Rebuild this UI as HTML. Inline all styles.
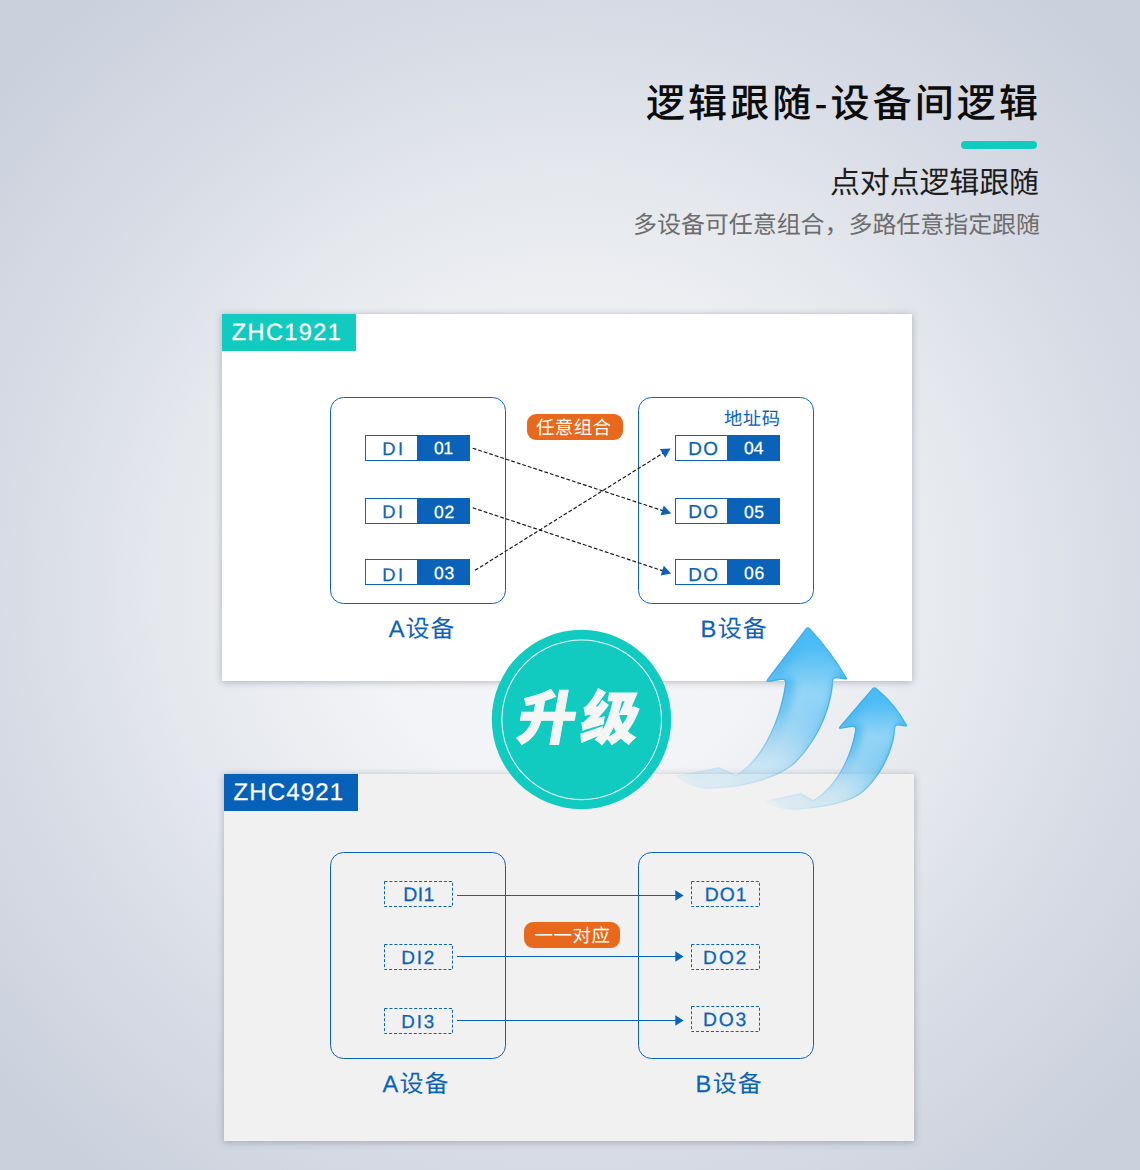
<!DOCTYPE html>
<html lang="zh"><head><meta charset="utf-8"><title>逻辑跟随-设备间逻辑</title>
<style>
html,body{margin:0;padding:0}
body{width:1140px;height:1170px;position:relative;overflow:hidden;font-family:"Liberation Sans","Noto Sans CJK SC",sans-serif;
background:radial-gradient(circle at 570px 585px,#f5f6f9 0,#f3f4f7 200px,#e4e7ec 416px,#d7dbe5 570px,#cad1dc 760px);}
.card{position:absolute;box-shadow:0 1px 7px rgba(70,80,100,.38)}
#c1{left:222px;top:314px;width:690px;height:367px;background:#fff}
#c2{left:224px;top:774px;width:690px;height:367px;background:#f1f1f1}
svg{position:absolute;left:0;top:0}
text{font-family:"Liberation Sans","Noto Sans CJK SC",sans-serif;text-rendering:geometricPrecision}
</style></head><body>
<div class="card" id="c1"></div>
<div class="card" id="c2"></div>
<svg width="1140" height="1170" viewBox="0 0 1140 1170">
<text x="646" y="116.5" font-size="39" font-weight="500" fill="#0c0c0c" textLength="392" lengthAdjust="spacing">逻辑跟随-设备间逻辑</text>
<rect x="961" y="141" width="76" height="8" rx="4" fill="#11cac0"/>
<text x="830" y="192.5" font-size="30" fill="#1c1c1c" textLength="209" lengthAdjust="spacing">点对点逻辑跟随</text>
<text x="633" y="232.5" font-size="24" fill="#6c6c6c" textLength="407" lengthAdjust="spacing">多设备可任意组合，多路任意指定跟随</text>
<rect x="222" y="314" width="134" height="37" fill="#11cac0"/>
<text x="231.75" y="339.6" font-size="23.55" letter-spacing="1.4" fill="#fff" stroke="#fff" stroke-width="0.25">ZHC1921</text>
<rect x="224" y="774" width="134" height="37" fill="#0761b9"/>
<text x="233.54" y="799.5" font-size="24.1" letter-spacing="1.07" fill="#fff" stroke="#fff" stroke-width="0.25">ZHC4921</text>
<rect x="330.5" y="397.5" width="175" height="206" rx="13" fill="none" stroke="#0b62b9" stroke-width="1"/>
<rect x="638.5" y="397.5" width="175" height="206" rx="13" fill="none" stroke="#0b62b9" stroke-width="1"/>
<rect x="365.5" y="435.5" width="104" height="25" fill="#fff" stroke="#0b62b9"/>
<rect x="417" y="435" width="53" height="26" fill="#0b62b9"/>
<rect x="675.5" y="435.5" width="104" height="25" fill="#fff" stroke="#0b62b9"/>
<rect x="727" y="435" width="53" height="26" fill="#0b62b9"/>
<rect x="365.5" y="498.5" width="104" height="25" fill="#fff" stroke="#0b62b9"/>
<rect x="417" y="498" width="53" height="26" fill="#0b62b9"/>
<rect x="675.5" y="498.5" width="104" height="25" fill="#fff" stroke="#0b62b9"/>
<rect x="727" y="498" width="53" height="26" fill="#0b62b9"/>
<rect x="365.5" y="559.5" width="104" height="25" fill="#fff" stroke="#0b62b9"/>
<rect x="417" y="559" width="53" height="26" fill="#0b62b9"/>
<rect x="675.5" y="559.5" width="104" height="25" fill="#fff" stroke="#0b62b9"/>
<rect x="727" y="559" width="53" height="26" fill="#0b62b9"/>
<text x="382.29" y="454.65" font-size="18.36" letter-spacing="2.34" fill="#0b62b9" stroke="#0b62b9" stroke-width="0.25">DI</text>
<text x="688.15" y="455.15" font-size="18.92" letter-spacing="1.47" fill="#0b62b9" stroke="#0b62b9" stroke-width="0.25">DO</text>
<text x="382.29" y="517.75" font-size="18.36" letter-spacing="2.34" fill="#0b62b9" stroke="#0b62b9" stroke-width="0.25">DI</text>
<text x="688.15" y="518.25" font-size="18.92" letter-spacing="1.47" fill="#0b62b9" stroke="#0b62b9" stroke-width="0.25">DO</text>
<text x="382.29" y="580.55" font-size="18.36" letter-spacing="2.34" fill="#0b62b9" stroke="#0b62b9" stroke-width="0.25">DI</text>
<text x="688.15" y="581.05" font-size="18.92" letter-spacing="1.47" fill="#0b62b9" stroke="#0b62b9" stroke-width="0.25">DO</text>
<text x="433.91" y="454.45" font-size="17.57" letter-spacing="-0.4" fill="#fff" stroke="#fff" stroke-width="0.25">01</text>
<text x="743.91" y="454.45" font-size="17.57" letter-spacing="0.15" fill="#fff" stroke="#fff" stroke-width="0.25">04</text>
<text x="433.91" y="517.55" font-size="17.57" letter-spacing="0.82" fill="#fff" stroke="#fff" stroke-width="0.25">02</text>
<text x="743.91" y="517.55" font-size="17.57" letter-spacing="0.68" fill="#fff" stroke="#fff" stroke-width="0.25">05</text>
<text x="433.91" y="578.75" font-size="17.57" letter-spacing="0.71" fill="#fff" stroke="#fff" stroke-width="0.25">03</text>
<text x="743.91" y="578.75" font-size="17.57" letter-spacing="0.71" fill="#fff" stroke="#fff" stroke-width="0.25">06</text>
<text x="724" y="424.5" font-size="18.3" fill="#0b62b9" textLength="56" lengthAdjust="spacing">地址码</text>
<rect x="527" y="414" width="96" height="26" rx="9" fill="#e8681c"/>
<text x="536" y="434" font-size="18.5" fill="#fff" textLength="75" lengthAdjust="spacing">任意组合</text>
<path d="M472.7 448.2L663.60 510.90" stroke="#141414" stroke-width="1.15" stroke-dasharray="3.8 2" fill="none"/>
<path fill="#0b62b9" d="M671.20 513.40L660.58 515.28L663.77 505.59Z"/>
<path d="M472.7 507.8L663.61 571.08" stroke="#141414" stroke-width="1.15" stroke-dasharray="3.8 2" fill="none"/>
<path fill="#0b62b9" d="M671.20 573.60L660.58 575.45L663.79 565.77Z"/>
<path d="M475.1 570.3L663.81 452.63" stroke="#141414" stroke-width="1.15" stroke-dasharray="3.8 2" fill="none"/>
<path fill="#0b62b9" d="M670.60 448.40L665.24 457.75L659.84 449.10Z"/>
<text x="388.65" y="636.85" font-size="23.62" letter-spacing="0" fill="#0b62b9" stroke="#0b62b9" stroke-width="0.25">A</text>
<text x="405.5" y="636.9" font-size="24" fill="#0b62b9" textLength="49" lengthAdjust="spacing">设备</text>
<text x="700.46" y="636.85" font-size="23.62" letter-spacing="0" fill="#0b62b9" stroke="#0b62b9" stroke-width="0.25">B</text>
<text x="717.7" y="636.9" font-size="24" fill="#0b62b9" textLength="49" lengthAdjust="spacing">设备</text>
<rect x="330.5" y="852.5" width="175" height="206" rx="13" fill="none" stroke="#0b62b9" stroke-width="1"/>
<rect x="638.5" y="852.5" width="175" height="206" rx="13" fill="none" stroke="#0b62b9" stroke-width="1"/>
<rect x="384.5" y="881.5" width="68" height="25" fill="none" stroke="#0b62b9" stroke-dasharray="3 1.95"/>
<rect x="691.5" y="881.5" width="68" height="25" fill="none" stroke="#0b62b9" stroke-dasharray="3 1.95"/>
<path d="M457 895.5H676" stroke="#0b62b9" stroke-width="1" fill="none"/>
<path fill="#0b62b9" d="M675.3 890.2L683.6 895.5L675.3 900.8Z"/>
<rect x="384.5" y="944.5" width="68" height="25" fill="none" stroke="#0b62b9" stroke-dasharray="3 1.95"/>
<rect x="691.5" y="944.5" width="68" height="25" fill="none" stroke="#0b62b9" stroke-dasharray="3 1.95"/>
<path d="M457 956.5H676" stroke="#0b62b9" stroke-width="1" fill="none"/>
<path fill="#0b62b9" d="M675.3 951.2L683.6 956.5L675.3 961.8Z"/>
<rect x="384.5" y="1008.5" width="68" height="25" fill="none" stroke="#0b62b9" stroke-dasharray="3 1.95"/>
<rect x="691.5" y="1006.5" width="68" height="25" fill="none" stroke="#0b62b9" stroke-dasharray="3 1.95"/>
<path d="M457 1020.5H676" stroke="#0b62b9" stroke-width="1" fill="none"/>
<path fill="#0b62b9" d="M675.3 1015.2L683.6 1020.5L675.3 1025.8Z"/>
<text x="403.2" y="900.95" font-size="19.47" letter-spacing="0.43" fill="#0b62b9" stroke="#0b62b9" stroke-width="0.25">DI1</text>
<text x="401.14" y="964.05" font-size="19.05" letter-spacing="1.79" fill="#0b62b9" stroke="#0b62b9" stroke-width="0.25">DI2</text>
<text x="401.16" y="1028.05" font-size="18.78" letter-spacing="1.92" fill="#0b62b9" stroke="#0b62b9" stroke-width="0.25">DI3</text>
<text x="704.81" y="901.25" font-size="19.32" letter-spacing="0.95" fill="#0b62b9" stroke="#0b62b9" stroke-width="0.25">DO1</text>
<text x="703.04" y="964.25" font-size="19.06" letter-spacing="2.12" fill="#0b62b9" stroke="#0b62b9" stroke-width="0.25">DO2</text>
<text x="703.01" y="1026.35" font-size="19.32" letter-spacing="1.8" fill="#0b62b9" stroke="#0b62b9" stroke-width="0.25">DO3</text>
<rect x="524" y="922" width="96" height="26" rx="9" fill="#e8681c"/>
<text x="534.5" y="942" font-size="18.5" fill="#fff" textLength="75.5" lengthAdjust="spacing">一一对应</text>
<text x="382.55" y="1091.85" font-size="23.62" letter-spacing="0" fill="#0b62b9" stroke="#0b62b9" stroke-width="0.25">A</text>
<text x="399.5" y="1091.9" font-size="24" fill="#0b62b9" textLength="49" lengthAdjust="spacing">设备</text>
<text x="695.46" y="1091.85" font-size="23.62" letter-spacing="0" fill="#0b62b9" stroke="#0b62b9" stroke-width="0.25">B</text>
<text x="712.7" y="1091.9" font-size="24" fill="#0b62b9" textLength="49" lengthAdjust="spacing">设备</text>
<circle cx="581.5" cy="719.5" r="89.7" fill="#11cac0"/>
<circle cx="581.7" cy="719.8" r="79.8" fill="none" stroke="#fff" stroke-opacity=".92" stroke-width="1.05"/>
<text transform="translate(515 739) skewX(-10)" x="0" y="0" font-size="58" font-weight="900" letter-spacing="5" fill="#f5f5f5" stroke="#f5f5f5" stroke-width="1">升级</text>
<defs><linearGradient id="a1g" gradientUnits="userSpaceOnUse" x1="812" y1="640" x2="700" y2="795"><stop offset="0" stop-color="#48bbf5"/><stop offset=".16" stop-color="#49b9f2"/><stop offset=".27" stop-color="#4ab8f0" stop-opacity=".92"/><stop offset=".39" stop-color="#4bb8ef" stop-opacity=".77"/><stop offset=".51" stop-color="#4db9ef" stop-opacity=".53"/><stop offset=".61" stop-color="#50bbf0" stop-opacity=".35"/><stop offset=".72" stop-color="#54bdf1" stop-opacity=".24"/><stop offset=".95" stop-color="#58bff2" stop-opacity=".14"/><stop offset="1" stop-color="#60c2f3" stop-opacity=".06"/></linearGradient><linearGradient id="a1e" gradientUnits="userSpaceOnUse" x1="812" y1="640" x2="700" y2="795"><stop offset="0" stop-color="#2f9fe2" stop-opacity=".35"/><stop offset=".25" stop-color="#2f9fe2" stop-opacity=".55"/><stop offset=".55" stop-color="#3aa3e0" stop-opacity=".40"/><stop offset=".75" stop-color="#4aace4" stop-opacity=".16"/><stop offset="1" stop-color="#4aace4" stop-opacity=".02"/></linearGradient><linearGradient id="a1h" gradientUnits="userSpaceOnUse" x1="0" y1="627" x2="0" y2="792"><stop offset="0" stop-color="#fff" stop-opacity="0"/><stop offset=".10" stop-color="#fff" stop-opacity=".03"/><stop offset=".20" stop-color="#fff" stop-opacity=".16"/><stop offset=".30" stop-color="#fff" stop-opacity=".30"/><stop offset=".40" stop-color="#fff" stop-opacity=".42"/><stop offset=".55" stop-color="#fff" stop-opacity=".30"/><stop offset=".7" stop-color="#fff" stop-opacity=".20"/><stop offset="1" stop-color="#fff" stop-opacity=".10"/></linearGradient><clipPath id="a1c"><path d="M804.9 629.5Q808 625 811.1 629.5Q831.7 651.9 846.6 677.4Q848 679.7 845.6 679.4L836.5 678.2Q833.4 677.8 833.2 681C831.5 709 818 740 796.7 761.7C782.7 776 750 787 715 788.6C700 790.5 686 785 675.4 776.1L719 767.2L736.2 774.9C765 757 781 715 785.2 683Q785.4 679.7 782.3 679.7L768.6 681.9Q765 682.3 767 679.4Z"/></clipPath><filter id="a1b" x="-20%" y="-20%" width="140%" height="140%"><feMorphology operator="erode" radius="3.5"/><feOffset dx="5" dy="-1"/><feGaussianBlur stdDeviation="4.0"/></filter><filter id="a1s" x="-10%" y="-10%" width="120%" height="120%"><feGaussianBlur stdDeviation=".7"/></filter></defs><path d="M804.9 629.5Q808 625 811.1 629.5Q831.7 651.9 846.6 677.4Q848 679.7 845.6 679.4L836.5 678.2Q833.4 677.8 833.2 681C831.5 709 818 740 796.7 761.7C782.7 776 750 787 715 788.6C700 790.5 686 785 675.4 776.1L719 767.2L736.2 774.9C765 757 781 715 785.2 683Q785.4 679.7 782.3 679.7L768.6 681.9Q765 682.3 767 679.4Z" fill="url(#a1g)"/><g clip-path="url(#a1c)"><path d="M804.9 629.5Q808 625 811.1 629.5Q831.7 651.9 846.6 677.4Q848 679.7 845.6 679.4L836.5 678.2Q833.4 677.8 833.2 681C831.5 709 818 740 796.7 761.7C782.7 776 750 787 715 788.6C700 790.5 686 785 675.4 776.1L719 767.2L736.2 774.9C765 757 781 715 785.2 683Q785.4 679.7 782.3 679.7L768.6 681.9Q765 682.3 767 679.4Z" fill="url(#a1h)" filter="url(#a1b)"/><path d="M804.9 629.5Q808 625 811.1 629.5Q831.7 651.9 846.6 677.4Q848 679.7 845.6 679.4L836.5 678.2Q833.4 677.8 833.2 681C831.5 709 818 740 796.7 761.7C782.7 776 750 787 715 788.6C700 790.5 686 785 675.4 776.1L719 767.2L736.2 774.9C765 757 781 715 785.2 683Q785.4 679.7 782.3 679.7L768.6 681.9Q765 682.3 767 679.4Z" fill="none" stroke="url(#a1e)" stroke-width="2.6" filter="url(#a1s)"/></g>
<defs><linearGradient id="a2g" gradientUnits="userSpaceOnUse" x1="878" y1="698" x2="782" y2="812"><stop offset="0" stop-color="#48bbf5"/><stop offset=".16" stop-color="#49b9f2"/><stop offset=".27" stop-color="#4ab8f0" stop-opacity=".92"/><stop offset=".39" stop-color="#4bb8ef" stop-opacity=".77"/><stop offset=".51" stop-color="#4db9ef" stop-opacity=".53"/><stop offset=".61" stop-color="#50bbf0" stop-opacity=".35"/><stop offset=".72" stop-color="#54bdf1" stop-opacity=".24"/><stop offset=".95" stop-color="#58bff2" stop-opacity=".14"/><stop offset="1" stop-color="#60c2f3" stop-opacity=".06"/></linearGradient><linearGradient id="a2e" gradientUnits="userSpaceOnUse" x1="878" y1="698" x2="782" y2="812"><stop offset="0" stop-color="#2f9fe2" stop-opacity=".35"/><stop offset=".25" stop-color="#2f9fe2" stop-opacity=".55"/><stop offset=".55" stop-color="#3aa3e0" stop-opacity=".40"/><stop offset=".75" stop-color="#4aace4" stop-opacity=".16"/><stop offset="1" stop-color="#4aace4" stop-opacity=".02"/></linearGradient><linearGradient id="a2h" gradientUnits="userSpaceOnUse" x1="0" y1="687" x2="0" y2="812"><stop offset="0" stop-color="#fff" stop-opacity="0"/><stop offset=".10" stop-color="#fff" stop-opacity=".03"/><stop offset=".20" stop-color="#fff" stop-opacity=".16"/><stop offset=".30" stop-color="#fff" stop-opacity=".30"/><stop offset=".40" stop-color="#fff" stop-opacity=".42"/><stop offset=".55" stop-color="#fff" stop-opacity=".30"/><stop offset=".7" stop-color="#fff" stop-opacity=".20"/><stop offset="1" stop-color="#fff" stop-opacity=".10"/></linearGradient><clipPath id="a2c"><path d="M871.3 689.4Q874.2 685.3 877.8 689.3Q895.8 704.3 906.6 724.6Q908 726.7 905.8 726.5L898.3 725.6Q895.4 725.3 895.2 728.3C894 750 881 776 863.7 791.6C851 803 822 808 797.4 809.7C785 810.5 772 807 763.4 801.1L800.5 793.2L813.2 800C838 786 852 752 855.2 729.6Q855.3 726.5 852.6 726.7L841 728.7Q837.6 729.3 839.6 726.5Z"/></clipPath><filter id="a2b" x="-20%" y="-20%" width="140%" height="140%"><feMorphology operator="erode" radius="3.0"/><feOffset dx="4.2" dy="-0.8"/><feGaussianBlur stdDeviation="3.5"/></filter><filter id="a2s" x="-10%" y="-10%" width="120%" height="120%"><feGaussianBlur stdDeviation=".7"/></filter></defs><path d="M871.3 689.4Q874.2 685.3 877.8 689.3Q895.8 704.3 906.6 724.6Q908 726.7 905.8 726.5L898.3 725.6Q895.4 725.3 895.2 728.3C894 750 881 776 863.7 791.6C851 803 822 808 797.4 809.7C785 810.5 772 807 763.4 801.1L800.5 793.2L813.2 800C838 786 852 752 855.2 729.6Q855.3 726.5 852.6 726.7L841 728.7Q837.6 729.3 839.6 726.5Z" fill="url(#a2g)"/><g clip-path="url(#a2c)"><path d="M871.3 689.4Q874.2 685.3 877.8 689.3Q895.8 704.3 906.6 724.6Q908 726.7 905.8 726.5L898.3 725.6Q895.4 725.3 895.2 728.3C894 750 881 776 863.7 791.6C851 803 822 808 797.4 809.7C785 810.5 772 807 763.4 801.1L800.5 793.2L813.2 800C838 786 852 752 855.2 729.6Q855.3 726.5 852.6 726.7L841 728.7Q837.6 729.3 839.6 726.5Z" fill="url(#a2h)" filter="url(#a2b)"/><path d="M871.3 689.4Q874.2 685.3 877.8 689.3Q895.8 704.3 906.6 724.6Q908 726.7 905.8 726.5L898.3 725.6Q895.4 725.3 895.2 728.3C894 750 881 776 863.7 791.6C851 803 822 808 797.4 809.7C785 810.5 772 807 763.4 801.1L800.5 793.2L813.2 800C838 786 852 752 855.2 729.6Q855.3 726.5 852.6 726.7L841 728.7Q837.6 729.3 839.6 726.5Z" fill="none" stroke="url(#a2e)" stroke-width="2.6" filter="url(#a2s)"/></g>
</svg>
</body></html>
